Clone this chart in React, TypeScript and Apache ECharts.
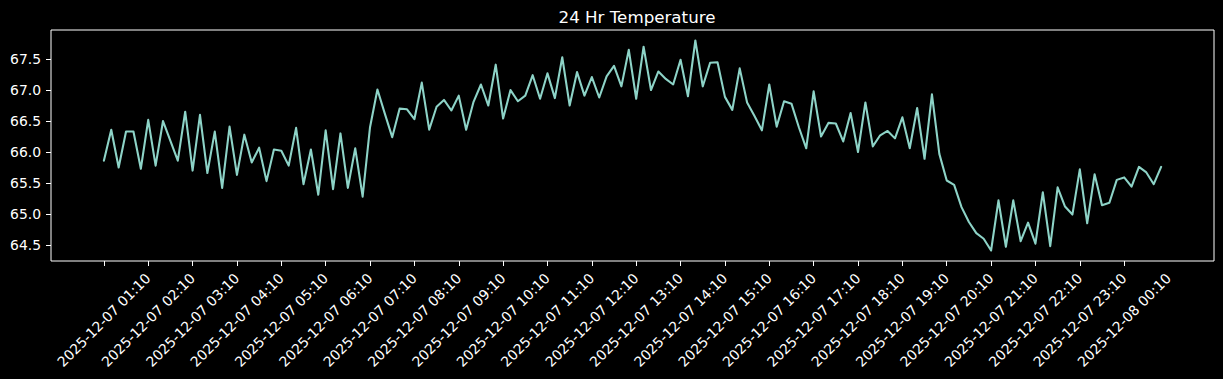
import React, { useEffect, useRef } from "react";
import * as echarts from "echarts";

// Temperature readings every 10 minutes, 2025-12-07 01:10 -> 2025-12-08 01:00
const temps: number[] = [
  65.86, 66.36, 65.75, 66.33, 66.33, 65.73, 66.52, 65.78, 66.50, 66.18,
  65.86, 66.65, 65.70, 66.60, 65.66, 66.33, 65.42, 66.41, 65.63, 66.28,
  65.83, 66.07, 65.53, 66.04, 66.02, 65.78, 66.39, 65.48, 66.04, 65.31,
  66.35, 65.40, 66.30, 65.42, 66.06, 65.28, 66.40, 67.01, 66.62, 66.24,
  66.70, 66.69, 66.53, 67.12, 66.36, 66.73, 66.84, 66.67, 66.91, 66.36,
  66.81, 67.09, 66.75, 67.41, 66.54, 67.00, 66.82, 66.91, 67.24, 66.86,
  67.27, 66.87, 67.53, 66.75, 67.29, 66.91, 67.21, 66.88, 67.22, 67.39,
  67.06, 67.65, 66.86, 67.70, 67.00, 67.30, 67.18, 67.09, 67.49, 66.90,
  67.80, 67.06, 67.44, 67.45, 66.89, 66.68, 67.35, 66.80, 66.58, 66.35,
  67.09, 66.41, 66.82, 66.78, 66.40, 66.06, 66.98, 66.25, 66.47, 66.46,
  66.17, 66.63, 66.00, 66.80, 66.09, 66.27, 66.34, 66.22, 66.56, 66.06,
  66.71, 65.89, 66.93, 65.97, 65.54, 65.47, 65.11, 64.87, 64.69, 64.60,
  64.41, 65.22, 64.47, 65.22, 64.56, 64.86, 64.52, 65.35, 64.48, 65.43,
  65.12, 64.99, 65.72, 64.85, 65.64, 65.14, 65.18, 65.55, 65.59, 65.44,
  65.76, 65.67, 65.48, 65.76,
];

// x tick positions (sample index) and their labels
const xTickIndex: number[] = [
  0, 6, 12, 18, 24, 30, 36, 42, 48, 54, 60, 66, 72, 78, 84, 90, 96, 102,
  108, 114, 120, 126, 132, 138,
];
const xTickLabels: string[] = [
  "2025-12-07 01:10", "2025-12-07 02:10", "2025-12-07 03:10", "2025-12-07 04:10",
  "2025-12-07 05:10", "2025-12-07 06:10", "2025-12-07 07:10", "2025-12-07 08:10",
  "2025-12-07 09:10", "2025-12-07 10:10", "2025-12-07 11:10", "2025-12-07 12:10",
  "2025-12-07 13:10", "2025-12-07 14:10", "2025-12-07 15:10", "2025-12-07 16:10",
  "2025-12-07 17:10", "2025-12-07 18:10", "2025-12-07 19:10", "2025-12-07 20:10",
  "2025-12-07 21:10", "2025-12-07 22:10", "2025-12-07 23:10", "2025-12-08 00:10",
];
const yTicks: number[] = [64.5, 65.0, 65.5, 66.0, 66.5, 67.0, 67.5];

const FONT = "DejaVu Sans";

export default function App() {
  const ref = useRef<HTMLDivElement>(null);
  useEffect(() => {
    if (!ref.current) return;
    const chart = echarts.init(ref.current, undefined, { renderer: "svg" });
    const n = temps.length;
    const pad = (n - 1) * 0.05;
    const yMin = Math.min(...temps);
    const yMax = Math.max(...temps);
    const yPad = (yMax - yMin) * 0.05;
    chart.setOption({
      animation: false,
      backgroundColor: "#000",
      title: {
        text: "24 Hr Temperature",
        left: 632,
        top: 3,
        textAlign: "center",
        textStyle: { color: "#fff", fontFamily: FONT, fontSize: 16.7, fontWeight: "normal" },
      },
      grid: {
        left: 51,
        right: 9,
        top: 30,
        bottom: 118,
        show: true,
        borderColor: "#fff",
        borderWidth: 1,
        backgroundColor: "#000",
      },
      xAxis: {
        type: "value",
        min: -pad,
        max: n - 1 + pad,
        splitLine: { show: false },
        axisLine: { show: false, onZero: false },
        axisTick: {
          show: true,
          length: 5,
          inside: false,
          lineStyle: { color: "#fff", width: 1 },
          customValues: xTickIndex,
        },
        axisLabel: {
          customValues: xTickIndex,
          rotate: 45,
          align: "center",
          verticalAlign: "middle",
          margin: 59,
          color: "#fff",
          fontFamily: FONT,
          fontSize: 13.9,
          formatter: (v: number) => {
            const k = xTickIndex.indexOf(Math.round(v));
            return k >= 0 ? xTickLabels[k] : "";
          },
        },
      },
      yAxis: {
        type: "value",
        min: yMin - yPad,
        max: yMax + yPad,
        splitLine: { show: false },
        axisLine: { show: false, onZero: false },
        axisTick: {
          show: true,
          length: 5,
          inside: false,
          lineStyle: { color: "#fff", width: 1 },
          customValues: yTicks,
        },
        axisLabel: {
          customValues: yTicks,
          margin: 10,
          color: "#fff",
          fontFamily: FONT,
          fontSize: 13.9,
          formatter: (v: number) => v.toFixed(1),
        },
      },
      series: [
        {
          type: "line",
          data: temps.map((v, i) => [i, v]),
          showSymbol: false,
          symbol: "none",
          lineStyle: { color: "#8dd3c7", width: 2.08, join: "round", cap: "round" },
        },
      ],
    });
    return () => chart.dispose();
  }, []);
  return (
    <div
      ref={ref}
      style={{ position: "fixed", left: 0, top: 0, width: 1223, height: 379, background: "#000" }}
    />
  );
}
